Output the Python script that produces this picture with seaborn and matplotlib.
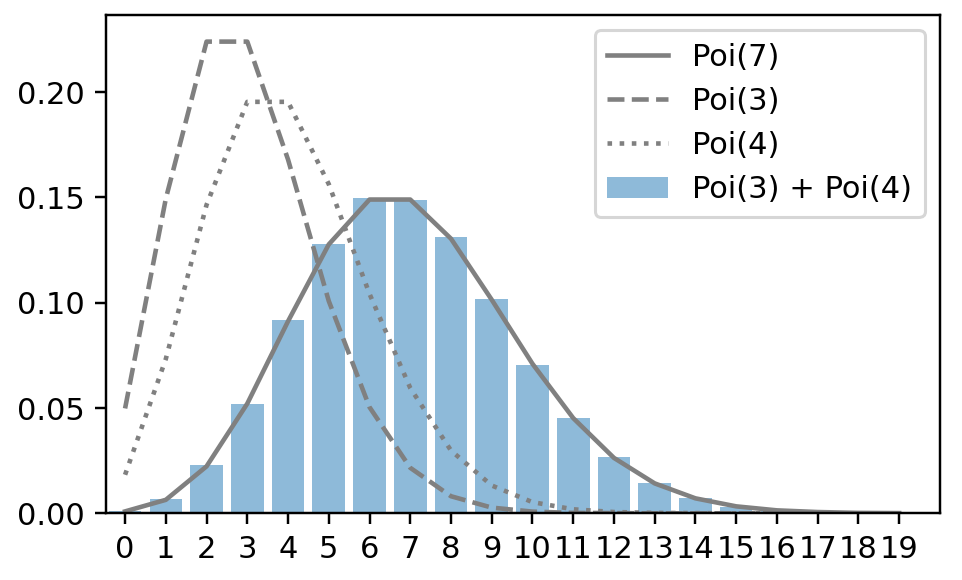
import numpy as np
import pandas as pd
import matplotlib
matplotlib.use("Agg")
import matplotlib.pyplot as plt
import seaborn as sns

k = list(range(20))
poi7 = [0.0009, 0.0064, 0.0223, 0.0521, 0.0912, 0.1277, 0.1490, 0.1490, 0.1304, 0.1014,
        0.0710, 0.0452, 0.0263, 0.0142, 0.0071, 0.0033, 0.0014, 0.0006, 0.0002, 0.0001]
poi3 = [0.0498, 0.1494, 0.2240, 0.2240, 0.1680, 0.1008, 0.0504, 0.0216, 0.0081, 0.0027,
        0.0008, 0.0002, 0.0001, 0.0000, 0.0000, 0.0000, 0.0000, 0.0000, 0.0000, 0.0000]
poi4 = [0.0183, 0.0733, 0.1465, 0.1954, 0.1954, 0.1563, 0.1042, 0.0595, 0.0298, 0.0132,
        0.0053, 0.0019, 0.0006, 0.0002, 0.0001, 0.0000, 0.0000, 0.0000, 0.0000, 0.0000]
# simulated sum (bars)
poi_sum = [0.001, 0.007, 0.023, 0.052, 0.092, 0.128, 0.1496, 0.1487, 0.131, 0.102,
           0.0705, 0.0451, 0.0266, 0.0143, 0.0071, 0.003, 0.001, 0.0003, 0.0001, 0.0]

df = pd.DataFrame({"k": k, "poi7": poi7, "poi3": poi3, "poi4": poi4, "sum": poi_sum})

dpi = 220
fig, ax = plt.subplots(figsize=(963 / dpi, 580 / dpi), dpi=dpi)
sns.lineplot(data=df, x="k", y="poi7", color="gray", linestyle="-", label="Poi(7)", ax=ax)
sns.lineplot(data=df, x="k", y="poi3", color="gray", linestyle="--", label="Poi(3)", ax=ax)
sns.lineplot(data=df, x="k", y="poi4", color="gray", linestyle=":", label="Poi(4)", ax=ax)
sns.barplot(data=df, x="k", y="sum", color="C0", alpha=0.5, saturation=1, width=0.8,
            label="Poi(3) + Poi(4)", ax=ax)

ax.set_xlim(-0.47, 20.0)
ax.set_ylim(0, 0.2366)
ax.set_xticks(k)
ax.set_xticklabels([str(i) for i in k])
ax.set_yticks([0, 0.05, 0.10, 0.15, 0.20])
ax.set_yticklabels(["0.00", "0.05", "0.10", "0.15", "0.20"])
ax.set_xlabel("")
ax.set_ylabel("")
ax.legend(loc="upper right")

plt.subplots_adjust(left=0.11, right=0.976, top=0.974, bottom=0.115)
plt.savefig("out.png", dpi=dpi)
plt.close()
